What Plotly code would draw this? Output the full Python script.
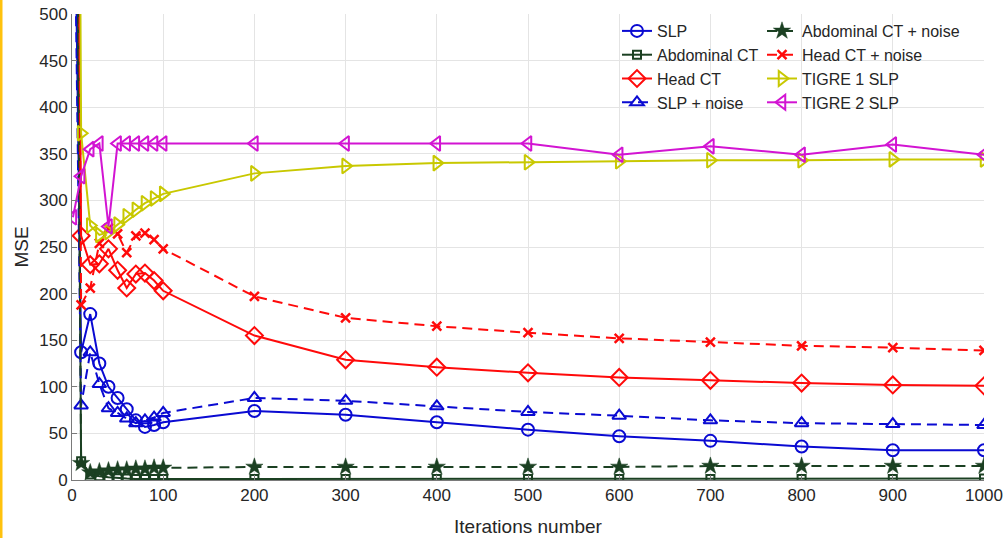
import plotly.graph_objects as go

iters = [1, 10, 20, 30, 40, 50, 60, 70, 80, 90, 100, 200, 300, 400, 500, 600, 700, 800, 900, 1000]

slp = [790, 137, 178, 125, 100, 88, 76, 64, 57, 59, 62, 74, 70, 62, 54, 47, 42, 36, 32, 32]
abd_ct = [1290, 20, 6, 4, 3, 2, 1.5, 1, 1, 1, 1, 1, 1, 1, 1, 1, 1, 1, 1, 1.5]
head_ct = [1450, 262, 231, 232, 248, 225, 206, 221, 222, 214, 203, 155, 129, 121, 115, 110, 107, 104, 102, 101]
slp_noise = [755, 80, 137, 103, 77, 72, 66, 61, 64, 67, 72, 88, 85, 79, 73, 69, 64, 61, 60, 59]
abd_ct_noise = [1290, 18, 8, 9, 10, 11, 11, 12, 12, 13, 13, 14, 14, 14, 14, 14, 15, 15, 15, 15]
head_ct_noise = [1750, 188, 206, 254, 270, 264, 244, 262, 265, 258, 248, 197, 174, 165, 158, 152, 148, 144, 142, 139]
tigre1 = [2000, 372, 273, 263, 266, 274, 283, 290, 297, 302, 307, 329, 337, 340, 341, 342, 343, 343, 344, 344]
tigre2 = [282, 326, 355, 361, 272, 361, 361, 361, 361, 361, 361, 361, 361, 361, 361, 349, 358, 349, 360, 349]

BLUE = "#0a0ad2"
GREEN = "#1b4022"
RED = "#ff0a0a"
YEL = "#c8c800"
MAG = "#d214d2"

series = [
    ("SLP", slp, BLUE, "solid", "circle-open", 12, "legend"),
    ("Abdominal CT", abd_ct, GREEN, "solid", "square-open", 8, "legend"),
    ("Head CT", head_ct, RED, "solid", "diamond-open", 13, "legend"),
    ("SLP + noise", slp_noise, BLUE, "10px,6px", "triangle-up-open", 12, "legend"),
    ("Abdominal CT + noise", abd_ct_noise, GREEN, "10px,6px", "star", 13, "legend2"),
    ("Head CT + noise", head_ct_noise, RED, "10px,6px", "x-thin", 9, "legend2"),
    ("TIGRE 1 SLP", tigre1, YEL, "solid", "triangle-right-open", 13, "legend2"),
    ("TIGRE 2 SLP", tigre2, MAG, "solid", "triangle-left-open", 13, "legend2"),
]

fig = go.Figure()
for name, vals, col, dash, sym, size, lg in series:
    marker = dict(symbol=sym, size=size, color=col, line=dict(width=2, color=col))
    if sym == "x-thin":
        marker["line"]["width"] = 2.5
    if sym == "star":
        marker["line"]["width"] = 0.5
    fig.add_trace(go.Scatter(
        x=iters, y=vals, name=name, mode="lines+markers",
        line=dict(color=col, width=2, dash=dash),
        marker=marker, legend=lg,
    ))

L, R, T, B = 72, 19, 14, 58
W, H = 1003, 538
pw, ph = W - L - R, H - T - B

font = "Liberation Sans, Arial, sans-serif"
axis_common = dict(
    showgrid=True, gridcolor="#e4e4e4", gridwidth=1,
    zeroline=False, showline=True, linecolor="#7a7a7a", linewidth=1,
    ticks="inside", ticklen=5, tickcolor="#7a7a7a",
    tickfont=dict(family=font, size=17, color="#262626"),
    mirror=False,
)

leg_common = dict(xanchor="left", yanchor="top", bgcolor="rgba(0,0,0,0)", borderwidth=0,
                  font=dict(family=font, size=16, color="#262626"), tracegroupgap=0)

fig.update_layout(
    width=W, height=H,
    margin=dict(l=L, r=R, t=T, b=B, pad=0),
    paper_bgcolor="white", plot_bgcolor="white",
    font=dict(family=font, color="#262626"),
    xaxis=dict(range=[0, 1000], dtick=100, tick0=0, automargin=False,
               title=dict(text="Iterations number", font=dict(family=font, size=19, color="#262626")),
               **axis_common),
    yaxis=dict(range=[0, 500], dtick=50, tick0=0, automargin="left",
               title=dict(text="MSE", font=dict(family=font, size=19, color="#262626"), standoff=5),
               **axis_common),
    legend=dict(x=(617 - L) / pw, y=1.0, **leg_common),
    legend2=dict(x=(762 - L) / pw, y=1.0, **leg_common),
    shapes=[dict(type="rect", xref="paper", yref="paper",
                 x0=-L / pw, x1=-(L - 2.5) / pw, y0=-B / ph, y1=1 + T / ph,
                 fillcolor="#ffc20e", line=dict(width=0), layer="above")],
)

fig.write_html("out.html")
